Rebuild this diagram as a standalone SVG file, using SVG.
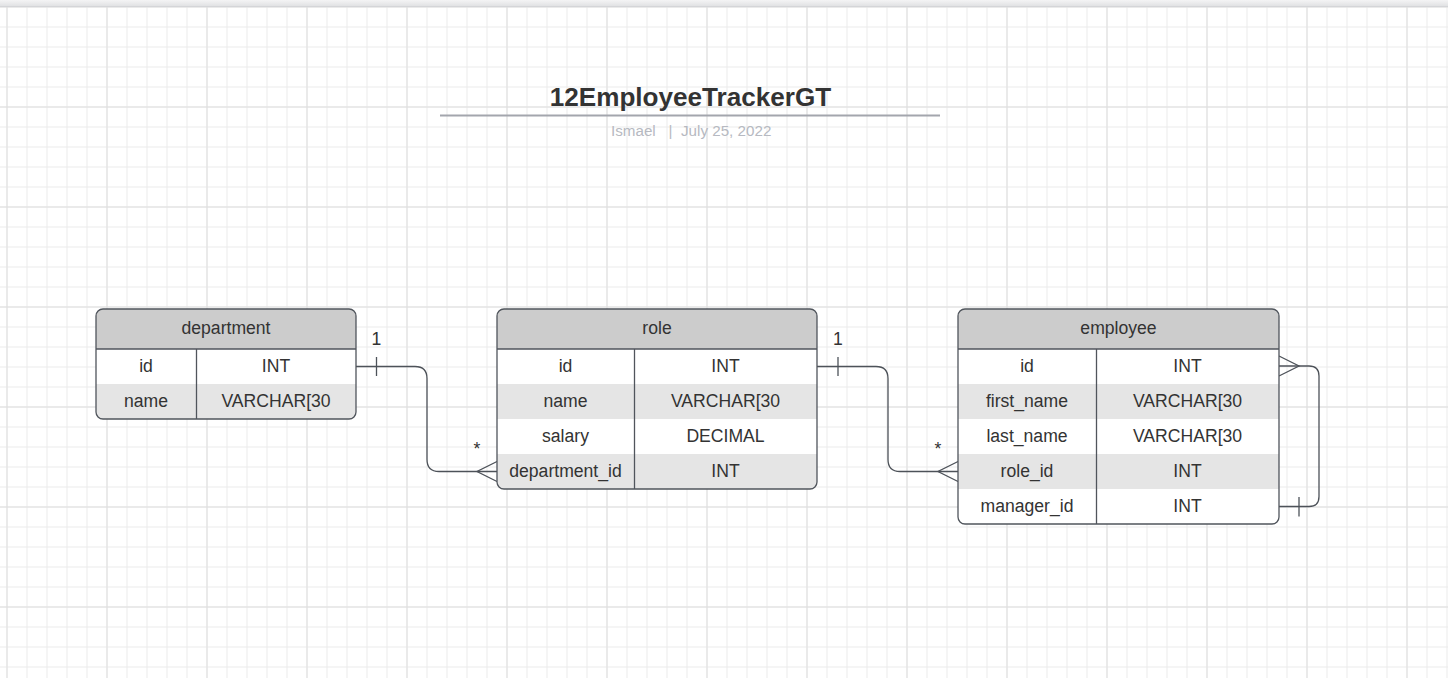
<svg xmlns="http://www.w3.org/2000/svg" width="1448" height="678" viewBox="0 0 1448 678">
<defs>
<pattern id="minor" x="6.5" y="6.5" width="20" height="20" patternUnits="userSpaceOnUse">
<path d="M0.5,0 V20 M0,0.5 H20" stroke="#ebebeb" stroke-width="1" fill="none"/>
</pattern>
<pattern id="major" x="6.5" y="6.5" width="100" height="100" patternUnits="userSpaceOnUse">
<path d="M0.5,0 V100 M0,0.5 H100" stroke="#dfdfdf" stroke-width="1" fill="none"/>
</pattern>
<linearGradient id="bar" x1="0" y1="0" x2="0" y2="1">
<stop offset="0" stop-color="#f4f4f5"/>
<stop offset="1" stop-color="#dedfe1"/>
</linearGradient>
<clipPath id="cDep"><rect x="96" y="309" width="260" height="110" rx="7"/></clipPath>
<clipPath id="cRole"><rect x="497" y="309" width="320" height="180" rx="7"/></clipPath>
<clipPath id="cEmp"><rect x="958" y="309" width="321" height="215" rx="7"/></clipPath>
</defs>
<style>
.t{font-family:"Liberation Sans",Arial,sans-serif;font-size:17.6px;fill:#333;text-anchor:middle}
.hd{fill:#cccccc}
.w{fill:#ffffff}
.g{fill:#e5e5e5}
.bd{fill:none;stroke:#50555c;stroke-width:1.3}
.ln{fill:none;stroke:#50555c;stroke-width:1.3}
.cn{fill:none;stroke:#4d5259;stroke-width:1.3}
</style>
<rect width="1448" height="678" fill="#ffffff"/>
<rect width="1448" height="678" fill="url(#minor)"/>
<rect width="1448" height="678" fill="url(#major)"/>
<rect x="0" y="0" width="1448" height="7" fill="url(#bar)"/>
<line x1="0" y1="6.5" x2="1448" y2="6.5" stroke="#d4d5d8" stroke-width="1"/>

<g id="title">
<text x="690.5" y="106" style="font-family:'Liberation Sans',Arial,sans-serif;font-size:26.1px;font-weight:bold;fill:#333;text-anchor:middle">12EmployeeTrackerGT</text>
<line x1="440" y1="115.5" x2="940" y2="115.5" stroke="#a3a6ad" stroke-width="2"/>
<text x="611" y="136" style="font-family:'Liberation Sans',Arial,sans-serif;font-size:15.2px;fill:#b6b9c1">Ismael</text>
<text x="670.5" y="136" style="font-family:'Liberation Sans',Arial,sans-serif;font-size:15.2px;fill:#b6b9c1;text-anchor:middle">|</text>
<text x="681" y="136" style="font-family:'Liberation Sans',Arial,sans-serif;font-size:15.2px;fill:#b6b9c1">July 25, 2022</text>
</g>

<g id="connectors">
<path class="cn" d="M356,366.5 H415 Q427,366.5 427,378.5 V459.5 Q427,471.5 439,471.5 H497"/>
<path class="cn" d="M497,461.5 L477,471.5 L497,481.5"/>
<path class="cn" d="M376.5,357 V376"/>
<text class="t" x="376.5" y="345">1</text>
<text class="t" x="477" y="455">*</text>

<path class="cn" d="M817,366.5 H876 Q888,366.5 888,378.5 V459.5 Q888,471.5 900,471.5 H958"/>
<path class="cn" d="M958,461.5 L938,471.5 L958,481.5"/>
<path class="cn" d="M838,357 V376"/>
<text class="t" x="838" y="345">1</text>
<text class="t" x="938" y="455">*</text>

<path class="cn" d="M1279,366 H1309 Q1319,366 1319,376 V496.5 Q1319,506.5 1309,506.5 H1279"/>
<path class="cn" d="M1279,356 L1299,366 L1279,376"/>
<path class="cn" d="M1299,497 V516.5"/>
</g>

<g id="department">
<g clip-path="url(#cDep)">
<rect class="hd" x="96" y="309" width="260" height="40"/>
<rect class="w" x="96" y="349" width="260" height="35"/>
<rect class="g" x="96" y="384" width="260" height="35"/>
</g>
<line class="ln" x1="96" y1="349" x2="356" y2="349"/>
<line class="ln" x1="196.5" y1="349" x2="196.5" y2="419"/>
<rect class="bd" x="96" y="309" width="260" height="110" rx="7"/>
<text class="t" x="226" y="334">department</text>
<text class="t" x="146" y="371.5">id</text>
<text class="t" x="276" y="371.5">INT</text>
<text class="t" x="146" y="406.5">name</text>
<text class="t" x="276" y="406.5">VARCHAR[30</text>
</g>

<g id="role">
<g clip-path="url(#cRole)">
<rect class="hd" x="497" y="309" width="320" height="40"/>
<rect class="w" x="497" y="349" width="320" height="35"/>
<rect class="g" x="497" y="384" width="320" height="35"/>
<rect class="w" x="497" y="419" width="320" height="35"/>
<rect class="g" x="497" y="454" width="320" height="35"/>
</g>
<line class="ln" x1="497" y1="349" x2="817" y2="349"/>
<line class="ln" x1="634.5" y1="349" x2="634.5" y2="489"/>
<rect class="bd" x="497" y="309" width="320" height="180" rx="7"/>
<text class="t" x="657" y="334">role</text>
<text class="t" x="565.5" y="371.5">id</text>
<text class="t" x="725.5" y="371.5">INT</text>
<text class="t" x="565.5" y="406.5">name</text>
<text class="t" x="725.5" y="406.5">VARCHAR[30</text>
<text class="t" x="565.5" y="441.5">salary</text>
<text class="t" x="725.5" y="441.5">DECIMAL</text>
<text class="t" x="565.5" y="476.5">department_id</text>
<text class="t" x="725.5" y="476.5">INT</text>
</g>

<g id="employee">
<g clip-path="url(#cEmp)">
<rect class="hd" x="958" y="309" width="321" height="40"/>
<rect class="w" x="958" y="349" width="321" height="35"/>
<rect class="g" x="958" y="384" width="321" height="35"/>
<rect class="w" x="958" y="419" width="321" height="35"/>
<rect class="g" x="958" y="454" width="321" height="35"/>
<rect class="w" x="958" y="489" width="321" height="35"/>
</g>
<line class="ln" x1="958" y1="349" x2="1279" y2="349"/>
<line class="ln" x1="1096.5" y1="349" x2="1096.5" y2="524"/>
<rect class="bd" x="958" y="309" width="321" height="215" rx="7"/>
<text class="t" x="1118.5" y="334">employee</text>
<text class="t" x="1027" y="371.5">id</text>
<text class="t" x="1187.5" y="371.5">INT</text>
<text class="t" x="1027" y="406.5">first_name</text>
<text class="t" x="1187.5" y="406.5">VARCHAR[30</text>
<text class="t" x="1027" y="441.5">last_name</text>
<text class="t" x="1187.5" y="441.5">VARCHAR[30</text>
<text class="t" x="1027" y="476.5">role_id</text>
<text class="t" x="1187.5" y="476.5">INT</text>
<text class="t" x="1027" y="511.5">manager_id</text>
<text class="t" x="1187.5" y="511.5">INT</text>
</g>
</svg>
